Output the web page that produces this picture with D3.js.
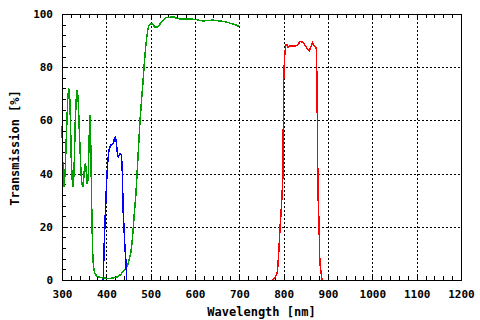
<!DOCTYPE html>
<html>
<head>
<meta charset="utf-8">
<script src="https://cdn.jsdelivr.net/npm/d3@7"></script>
<style>
  body { margin: 0; background: #fff; }
  text { font-family: "DejaVu Sans Mono", monospace; font-weight: bold; fill: #000; }
</style>
</head>
<body>
<div id="chart"></div>
<script>
// green filter: wavelength [nm] and transmission [%]
const greenNm = [300, 302, 304, 307, 310, 313, 315, 317, 319, 321, 323, 325, 327, 330, 333, 335, 337, 340, 343, 345, 347, 349, 351, 353, 355, 357, 359, 361, 363, 365, 367, 369, 371, 374, 378, 385, 395, 405, 415, 425, 432, 438, 444, 449, 455, 458, 461, 464, 467, 470, 472, 474, 476, 480, 483, 485, 487, 489, 491, 494, 497, 501, 505, 509, 514, 520, 527, 535, 545, 551, 557, 565, 580, 600, 610, 618, 630, 641, 655, 665, 672, 680, 690, 700]
const greenT  = [58, 42, 35, 40, 55, 68, 72, 71, 60, 45, 38, 35, 40, 60, 71, 71, 66, 52, 40, 36, 35, 38, 43, 44, 40, 36, 38, 52, 62, 50, 28, 11, 5, 2.6, 1.5, 1.0, 0.7, 0.6, 0.7, 1.2, 2, 3.2, 4.5, 6, 10, 14, 20, 27, 33, 42, 48, 54, 60, 69, 75, 80, 84, 88, 91, 94.5, 96, 96.5, 96, 95.2, 95, 96, 97.5, 98.6, 98.8, 99, 98.5, 98.2, 98.1, 98, 97.6, 97.4, 97.6, 97.7, 97.4, 97.2, 96.9, 96.5, 96, 95.3]

// blue filter
const blueNm = [393, 395, 397, 399, 401, 403, 406, 410, 413, 416, 418, 420, 422, 425, 427, 429, 431, 434, 436, 438, 440, 442, 444, 446]
const blueT  = [0, 12, 22, 30, 38, 44, 49, 50.7, 51, 51.5, 53, 53.6, 52.5, 47.6, 46.4, 47, 47.6, 47, 41, 26, 19, 12, 7.5, 0]

// red filter
const redNm = [775, 777, 782, 786, 789, 792, 794, 796, 798, 799, 800, 802, 805, 808, 810, 814, 826, 831, 837, 843, 848, 853, 858, 861, 865, 869, 874, 876, 877, 878, 880, 881, 882, 884, 886, 887]
const redT  = [0, 0.3, 1.3, 3.1, 10.6, 20, 25, 31, 38, 55, 74.5, 84, 88.3, 88.3, 87.5, 88, 88, 88.3, 89.6, 89.5, 88.3, 87, 86.2, 87.5, 89.2, 88, 87, 60, 40, 30, 20, 10, 6, 3.5, 0.5, 0]

const xTicks = [300, 400, 500, 600, 700, 800, 900, 1000, 1100, 1200]
const yTicks = [0, 20, 40, 60, 80, 100]

const fullWidth = 480
const fullHeight = 320
const plot = { left: 62, right: 461, top: 14, bottom: 280 }

const x = d3.scaleLinear().domain([300, 1200]).range([plot.left, plot.right])
const y = d3.scaleLinear().domain([0, 100]).range([plot.bottom, plot.top])

const svg = d3.select("#chart")
              .append("svg")
              .attr("width", fullWidth)
              .attr("height", fullHeight)

svg.append("rect")
   .attr("width", fullWidth)
   .attr("height", fullHeight)
   .attr("fill", "#fff")

// dotted grid
const grid = svg.append("g")
                .attr("stroke", "#000")
                .attr("stroke-dasharray", "2,2")
                .attr("shape-rendering", "crispEdges")

grid.selectAll("line.vx")
    .data(xTicks.slice(1, -1))
    .enter()
    .append("line")
    .attr("x1", d => Math.round(x(d)) + 0.5)
    .attr("x2", d => Math.round(x(d)) + 0.5)
    .attr("y1", plot.top)
    .attr("y2", plot.bottom)

grid.selectAll("line.hy")
    .data(yTicks.slice(1, -1))
    .enter()
    .append("line")
    .attr("y1", d => Math.round(y(d)) + 0.5)
    .attr("y2", d => Math.round(y(d)) + 0.5)
    .attr("x1", plot.left)
    .attr("x2", plot.right)

// minor ticks
const minorX = d3.range(300, 1201, 20)
const minorY = d3.range(0, 101, 4)

const xMinorBottom = d3.axisBottom(x).tickValues(minorX).tickSize(-4).tickFormat("")
const xMinorTop = d3.axisTop(x).tickValues(minorX).tickSize(-4).tickFormat("")
const yMinorLeft = d3.axisLeft(y).tickValues(minorY).tickSize(-4).tickFormat("")

svg.append("g").attr("transform", `translate(0,${plot.bottom})`).call(xMinorBottom)
svg.append("g").attr("transform", `translate(0,${plot.top})`).call(xMinorTop)
svg.append("g").attr("transform", `translate(${plot.left},0)`).call(yMinorLeft)

svg.selectAll(".domain").remove()
svg.selectAll(".tick line").attr("stroke", "#000").attr("shape-rendering", "crispEdges")

// labelled axes
const xAxis = d3.axisBottom(x).tickValues(xTicks).tickFormat(d3.format("d")).tickSize(0).tickPadding(10)
const yAxis = d3.axisLeft(y).tickValues(yTicks).tickFormat(d3.format("d")).tickSize(0).tickPadding(9)

const gx = svg.append("g").attr("transform", `translate(0,${plot.bottom})`).call(xAxis)
const gy = svg.append("g").attr("transform", `translate(${plot.left},0)`).call(yAxis)
gx.select(".domain").remove()
gy.select(".domain").remove()
gx.selectAll("text").style("font-size", "11px").style("font-family", "'DejaVu Sans Mono', monospace").attr("fill", "#000")
gy.selectAll("text").style("font-size", "11px").style("font-family", "'DejaVu Sans Mono', monospace").attr("fill", "#000")

// curves
const series = [
    { nm: greenNm, t: greenT, color: "#00a000" },
    { nm: blueNm, t: blueT, color: "#0000ff" },
    { nm: redNm, t: redT, color: "#ff0000" }
]

const line = d3.line()
               .x(d => x(d[0]))
               .y(d => y(d[1]))

svg.append("g")
   .selectAll("path")
   .data(series)
   .enter()
   .append("path")
   .attr("d", s => line(d3.zip(s.nm, s.t)))
   .attr("fill", "none")
   .attr("stroke", s => s.color)
   .attr("stroke-width", 1.5)
   .attr("shape-rendering", "crispEdges")

// frame
svg.append("rect")
   .attr("x", plot.left + 0.5)
   .attr("y", plot.top + 0.5)
   .attr("width", plot.right - plot.left)
   .attr("height", plot.bottom - plot.top)
   .attr("fill", "none")
   .attr("stroke", "#000")
   .attr("shape-rendering", "crispEdges")

// titles
svg.append("text")
   .attr("x", (plot.left + plot.right) / 2)
   .attr("y", 316)
   .attr("text-anchor", "middle")
   .style("font-size", "12px")
   .text("Wavelength [nm]")

svg.append("text")
   .attr("transform", `translate(19,148) rotate(-90)`)
   .attr("text-anchor", "middle")
   .style("font-size", "12px")
   .text("Transmission [%]")
</script>
</body>
</html>
